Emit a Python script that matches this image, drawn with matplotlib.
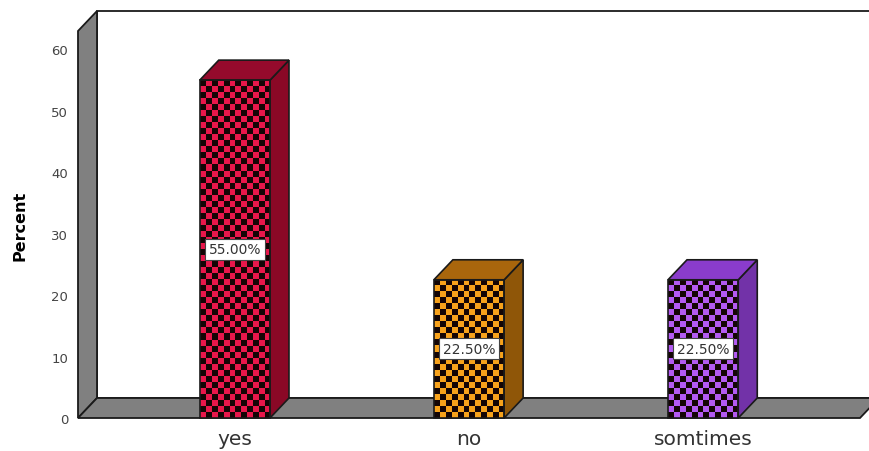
import numpy as np
import matplotlib
matplotlib.use("Agg")
import matplotlib.pyplot as plt
from matplotlib.patches import Polygon, Rectangle

categories = ["yes", "no", "somtimes"]
percents = [55.0, 22.5, 22.5]
yticks = [0, 10, 20, 30, 40, 50, 60]

# face colours per bar: checker colour, top face, side face
check_cols = ["#e8174b", "#f7a21b", "#b35af2"]
top_cols = ["#950a2c", "#a9660c", "#8a3ccc"]
side_cols = ["#8a0826", "#8f5608", "#7232a8"]

W, H = 869, 452
fig = plt.figure(figsize=(W / 100, H / 100), dpi=100)
ax = fig.add_axes([78 / W, (H - 419) / H, (860 - 78) / W, (419 - 32) / H])
ax.set_facecolor("none")

xmin, xmax = -0.67, 2.67
ymax = 63.0
ax_w = 860 - 78
ax_h = 419 - 32
# depth offset of the 3d frame, in pixels -> data units
DEPTH_PX = (19, 20)
ddx = DEPTH_PX[0] * (xmax - xmin) / ax_w
ddy = DEPTH_PX[1] * ymax / ax_h
px_x = ax_w / (xmax - xmin)
px_y = ax_h / ymax

edge = "#1a1a1a"

# back wall, left wall and floor
ax.add_patch(Rectangle((xmin + ddx, ddy), xmax - xmin, ymax, fc="white",
                       ec=edge, lw=1.3, clip_on=False, zorder=1))
ax.add_patch(Polygon([(xmin, 0), (xmin, ymax), (xmin + ddx, ymax + ddy), (xmin + ddx, ddy)],
                     closed=True, fc="#808080", ec=edge, lw=1.3, clip_on=False, zorder=2))
ax.add_patch(Polygon([(xmin, 0), (xmax, 0), (xmax + ddx, ddy), (xmin + ddx, ddy)],
                     closed=True, fc="#808080", ec=edge, lw=1.3, clip_on=False, zorder=2))

bw = 0.30
cell = 6.0
for i, (cat, v) in enumerate(zip(categories, percents)):
	x0, x1 = i - bw / 2, i + bw / 2
	# checkered front face
	nc = max(1, int(round(bw * px_x / cell)))
	nr = max(1, int(round(v * px_y / cell)))
	board = (np.add.outer(np.arange(nr), np.arange(nc)) % 2).astype(bool)
	rgb = np.array(matplotlib.colors.to_rgb(check_cols[i]))
	img = np.where(board[..., None], rgb, np.array([0.08, 0.02, 0.02]))
	ax.imshow(img, extent=(x0, x1, 0, v), aspect="auto", interpolation="nearest",
	          zorder=4, clip_on=False)
	ax.add_patch(Rectangle((x0, 0), bw, v, fill=False, ec=edge, lw=1.2,
	                       clip_on=False, zorder=5))
	# side and top faces
	ax.add_patch(Polygon([(x1, 0), (x1, v), (x1 + ddx, v + ddy), (x1 + ddx, ddy)],
	                     closed=True, fc=side_cols[i], ec=edge, lw=1.2, clip_on=False, zorder=4))
	ax.add_patch(Polygon([(x0, v), (x1, v), (x1 + ddx, v + ddy), (x0 + ddx, v + ddy)],
	                     closed=True, fc=top_cols[i], ec=edge, lw=1.2, clip_on=False, zorder=4))
	ax.text(i, v / 2, "%.2f%%" % v, ha="center", va="center", fontsize=10,
	        color="#333333", zorder=6,
	        bbox=dict(boxstyle="square,pad=0.25", fc="white", ec="#444444", lw=0.8))

ax.set_xlim(xmin, xmax)
ax.set_ylim(0, ymax)
ax.set_xticks(range(len(categories)))
ax.set_xticklabels(categories, fontsize=14.5, color="#333333")
ax.set_yticks(yticks)
ax.set_yticklabels([str(t) for t in yticks], fontsize=9.5, color="#444444")
ax.tick_params(axis="x", length=0, pad=8)
ax.tick_params(axis="y", length=0, pad=7)
for s in ax.spines.values():
	s.set_visible(False)
ax.set_ylabel("Percent", fontsize=11.5, fontweight="bold", labelpad=17)

fig.savefig("out.png", dpi=100)
